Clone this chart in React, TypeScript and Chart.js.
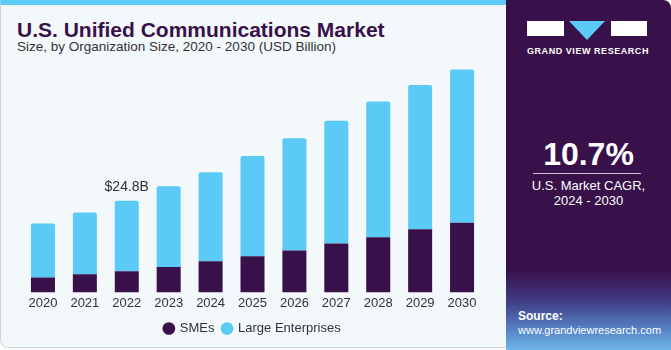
import React, { useEffect, useRef } from "react";
import { Chart, registerables } from "chart.js";

Chart.register(...registerables);

const years = ["2020", "2021", "2022", "2023", "2024", "2025", "2026", "2027", "2028", "2029", "2030"];
const smes = [4.0, 4.9, 5.7, 6.9, 8.4, 9.8, 11.3, 13.2, 14.9, 17.1, 18.8];
const largeEnterprises = [14.6, 16.7, 19.1, 21.8, 24.1, 27.1, 30.4, 33.2, 36.7, 39.0, 41.5];
const annotationIndex = 2;
const annotationLabel = "$24.8B";
const yMax = 65;

const PURPLE = "#38114a";
const BLUE = "#5ccaf6";

const annotationPlugin = {
  id: "valueLabel",
  afterDatasetsDraw(chart: any) {
    const meta = chart.getDatasetMeta(1);
    const el = meta.data[annotationIndex];
    if (!el) return;
    const ctx = chart.ctx;
    ctx.save();
    ctx.font = "14px 'Liberation Sans', Arial, sans-serif";
    ctx.fillStyle = "#333333";
    ctx.textAlign = "center";
    ctx.textBaseline = "bottom";
    ctx.fillText(annotationLabel, el.x, el.y - 7);
    ctx.restore();
  },
};

export default function App() {
  const ref = useRef<HTMLCanvasElement>(null);
  useEffect(() => {
    if (!ref.current) return;
    const chart = new Chart(ref.current, {
      type: "bar",
      data: {
        labels: years,
        datasets: [
          {
            label: "SMEs",
            data: smes,
            backgroundColor: PURPLE,
            categoryPercentage: 1,
            barPercentage: 0.573,
          },
          {
            label: "Large Enterprises",
            data: largeEnterprises,
            backgroundColor: BLUE,
            categoryPercentage: 1,
            barPercentage: 0.573,
            borderRadius: { topLeft: 2, topRight: 2, bottomLeft: 0, bottomRight: 0 },
            borderSkipped: false,
          },
        ],
      },
      options: {
        animation: false,
        responsive: false,
        maintainAspectRatio: false,
        layout: { padding: { top: 52, left: 22, right: 22, bottom: 0 } },
        scales: {
          x: {
            stacked: true,
            grid: { display: false, drawTicks: false },
            border: { display: false },
            ticks: {
              color: "#333333",
              padding: 3,
              font: { size: 13, family: "'Liberation Sans', Arial, sans-serif" },
            },
          },
          y: {
            stacked: true,
            display: false,
            min: 0,
            max: yMax,
          },
        },
        plugins: {
          legend: {
            position: "bottom",
            labels: {
              usePointStyle: true,
              pointStyle: "circle",
              boxWidth: 9,
              boxHeight: 9,
              padding: 8,
              color: "#333333",
              font: { size: 13, family: "'Liberation Sans', Arial, sans-serif" },
            },
          },
          tooltip: { enabled: false },
        },
      },
      plugins: [annotationPlugin],
    });
    return () => chart.destroy();
  }, []);

  return (
    <div
      style={{
        position: "absolute",
        left: 0,
        top: 0,
        width: 671,
        height: 350,
        overflow: "hidden",
        fontFamily: "'Liberation Sans', Arial, sans-serif",
        background: "#ffffff",
      }}
    >
      <div
        style={{
          position: "absolute",
          left: 0,
          top: 0,
          width: 516,
          height: 348,
          background: "#f3f8fb",
          border: "1px solid #cfd6dc",
          borderTop: "5px solid " + BLUE,
          borderRadius: "0 0 0 8px",
          boxSizing: "border-box",
        }}
      />
      <div
        style={{
          position: "absolute",
          left: 17,
          top: 18,
          fontSize: 21,
          fontWeight: 700,
          color: PURPLE,
          whiteSpace: "nowrap",
        }}
      >
        U.S. Unified Communications Market
      </div>
      <div
        style={{
          position: "absolute",
          left: 17,
          top: 39,
          fontSize: 13.5,
          color: "#333333",
          whiteSpace: "nowrap",
        }}
      >
        Size, by Organization Size, 2020 - 2030 (USD Billion)
      </div>
      <canvas
        ref={ref}
        width={505}
        height={345}
        style={{ position: "absolute", left: 0, top: 0, width: 505, height: 345 }}
      />
      <div
        style={{
          position: "absolute",
          left: 506,
          top: 0,
          width: 165,
          height: 350,
          borderRadius: "0 8px 0 0",
          background:
            "linear-gradient(to bottom, #38114a 0px, #38114a 270px, #3f3a82 300px, #5784c6 330px, #6fb6e8 350px)",
          color: "#ffffff",
        }}
      >
        <div style={{ position: "absolute", left: 21, top: 21, width: 37, height: 15, background: "#ffffff" }} />
        <div
          style={{
            position: "absolute",
            left: 63,
            top: 21,
            width: 0,
            height: 0,
            borderLeft: "18px solid transparent",
            borderRight: "18px solid transparent",
            borderTop: "19px solid " + BLUE,
          }}
        />
        <div style={{ position: "absolute", left: 105, top: 21, width: 36, height: 15, background: "#ffffff" }} />
        <div
          style={{
            position: "absolute",
            left: 21,
            width: 120,
            top: 46,
            textAlign: "center",
            fontSize: 9,
            fontWeight: 700,
            letterSpacing: 0.55,
            whiteSpace: "nowrap",
          }}
        >
          GRAND VIEW RESEARCH
        </div>
        <div
          style={{
            position: "absolute",
            left: 0,
            width: 165,
            top: 136,
            textAlign: "center",
            fontSize: 32,
            fontWeight: 700,
          }}
        >
          10.7%
        </div>
        <div style={{ position: "absolute", left: 27, top: 173, width: 108, height: 1, background: "#cfc4d8" }} />
        <div
          style={{
            position: "absolute",
            left: 0,
            width: 165,
            top: 178,
            textAlign: "center",
            fontSize: 13,
            lineHeight: "15px",
          }}
        >
          U.S. Market CAGR,
          <br />
          2024 - 2030
        </div>
        <div style={{ position: "absolute", left: 12, top: 309, fontSize: 12, fontWeight: 700 }}>Source:</div>
        <div style={{ position: "absolute", left: 12, top: 324, fontSize: 11, whiteSpace: "nowrap" }}>
          www.grandviewresearch.com
        </div>
      </div>
    </div>
  );
}
